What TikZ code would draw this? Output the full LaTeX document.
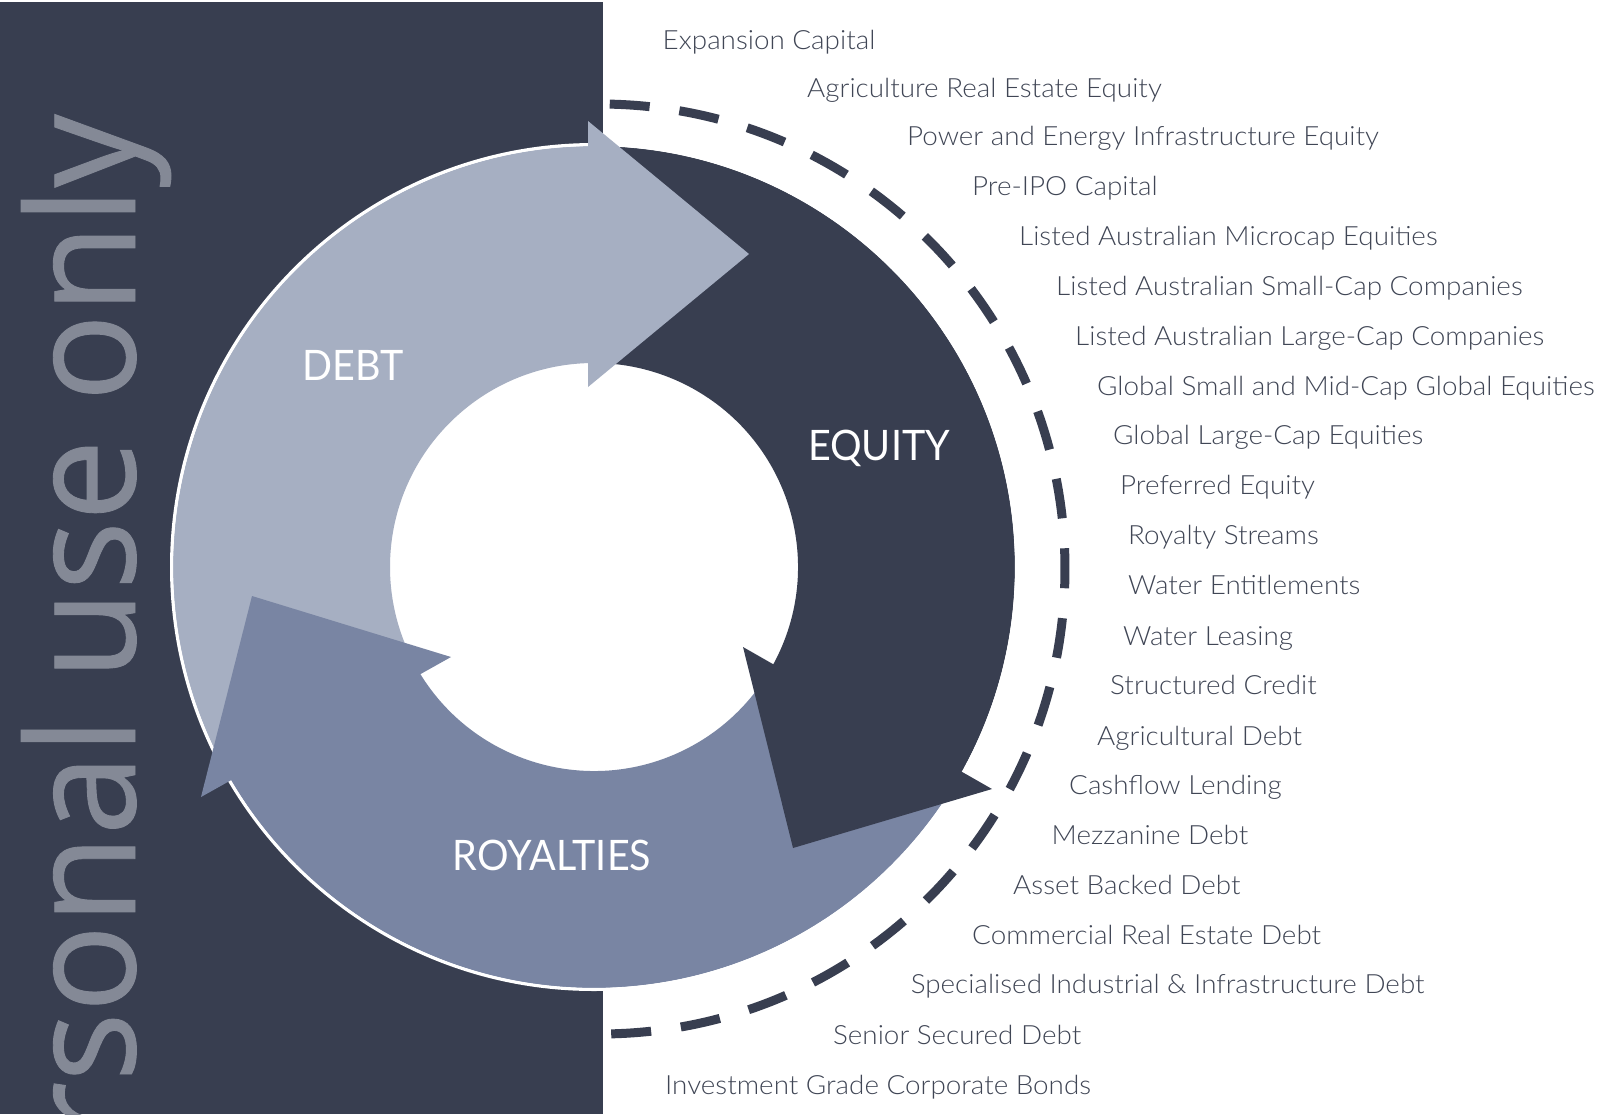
\documentclass[tikz,border=0pt]{standalone}
\usepackage{fontspec}
\usepackage{graphicx}
\setmainfont{Lato}
\newfontfamily\listfont{Lato Light}[FakeStretch=1.05]
\newfontfamily\labelfont{Lato}[FakeStretch=0.94]
\newfontfamily\wmfont{Open Sans}[FakeBold=0.6]
\definecolor{panelc}{HTML}{383E50}
\definecolor{debtc}{HTML}{A6AFC2}
\definecolor{royc}{HTML}{7985A3}
\definecolor{eqc}{HTML}{383E50}
\definecolor{listc}{HTML}{404655}
\definecolor{wmc}{HTML}{848996}
\begin{document}
\begin{tikzpicture}[x=1pt,y=-1pt,
  listitem/.style={anchor=base west, inner sep=0pt, text=listc, font=\listfont\fontsize{26.5}{30}\selectfont},
  seglabel/.style={anchor=base, inner sep=0pt, text=white, font=\labelfont\fontsize{42}{48}\selectfont}]
\useasboundingbox (0,0) rectangle (1600,1114);
\fill[white] (0,0) rectangle (1600,1114);
% dark panel
\fill[panelc] (0,2) rectangle (603,1114);
% watermark
\begin{scope}
  \clip (0,2) rectangle (603,1114);
  \node[rotate=90, anchor=base east, inner sep=0pt, text=wmc,
        font=\wmfont\fontsize{150}{150}\selectfont] (wm) at (135,114) {\scalebox{0.97}[1]{personal use only}};
\end{scope}
\coordinate (c) at (594,567);
\coordinate (dc) at (600,569);
% dashed arc
\draw[panelc, line width=9, dash pattern=on 40pt off 30pt]
  ([shift={(-88.8:465)}]dc) arc[start angle=-88.8, end angle=88.8, radius=465];
% white disk
\fill[white] (c) circle[radius=424];
% ring segments
\fill[debtc] ([shift={(150:421)}]c) arc[start angle=150, end angle=270, radius=421]
  -- ([shift={(270:204)}]c) arc[start angle=270, end angle=150, radius=204] -- cycle;
\fill[eqc] ([shift={(270:421)}]c) arc[start angle=270, end angle=390, radius=421]
  -- ([shift={(390:204)}]c) arc[start angle=390, end angle=270, radius=204] -- cycle;
\fill[royc] ([shift={(30:421)}]c) arc[start angle=30, end angle=150, radius=421]
  -- ([shift={(150:204)}]c) arc[start angle=150, end angle=30, radius=204] -- cycle;
% white rim
\draw[white, line width=2.2] (c) circle[radius=422];
% arrow heads
\fill[debtc] (588,121) -- (749,254) -- (588,387) -- cycle;
\fill[eqc] (743,647) -- (992,789) -- (793,848) -- cycle;
\fill[royc] (451,657) -- (201,797) -- (252,596) -- cycle;
% segment labels
\node[seglabel] (debt) at (353,380) {DEBT};
\node[seglabel] (equity) at (879,460) {EQUITY};
\node[seglabel] (roy) at (552,870) {ROYALTIES};
% list
\node[listitem] (l1) at (662.5,49.5) {Expansion Capital};
\node[listitem] (l2) at (807,97) {Agriculture Real Estate Equity};
\node[listitem] (l3) at (907,145.5) {Power and Energy Infrastructure Equity};
\node[listitem] (l4) at (972,195.5) {Pre-IPO Capital};
\node[listitem] (l5) at (1019,245.5) {Listed Australian Microcap Equities};
\node[listitem] (l6) at (1056,295.5) {Listed Australian Small-Cap Companies};
\node[listitem] (l7) at (1075,345.5) {Listed Australian Large-Cap Companies};
\node[listitem] (l8) at (1097,395.5) {Global Small and Mid-Cap Global Equities};
\node[listitem] (l9) at (1113,444.5) {Global Large-Cap Equities};
\node[listitem] (l10) at (1120,494.5) {Preferred Equity};
\node[listitem] (l11) at (1128,544.5) {Royalty Streams};
\node[listitem] (l12) at (1128,594.5) {Water Entitlements};
\node[listitem] (l13) at (1123,645.5) {Water Leasing};
\node[listitem] (l14) at (1110,694.5) {Structured Credit};
\node[listitem] (l15) at (1097,745.5) {Agricultural Debt};
\node[listitem] (l16) at (1069,794.5) {Cashflow Lending};
\node[listitem] (l17) at (1051.5,844.5) {Mezzanine Debt};
\node[listitem] (l18) at (1013,894.5) {Asset Backed Debt};
\node[listitem] (l19) at (972,944.5) {Commercial Real Estate Debt};
\node[listitem] (l20) at (910.6,993.5) {Specialised Industrial \& Infrastructure Debt};
\node[listitem] (l21) at (833,1044.5) {Senior Secured Debt};
\node[listitem] (l22) at (665,1094.5) {Investment Grade Corporate Bonds};
\end{tikzpicture}
\end{document}
